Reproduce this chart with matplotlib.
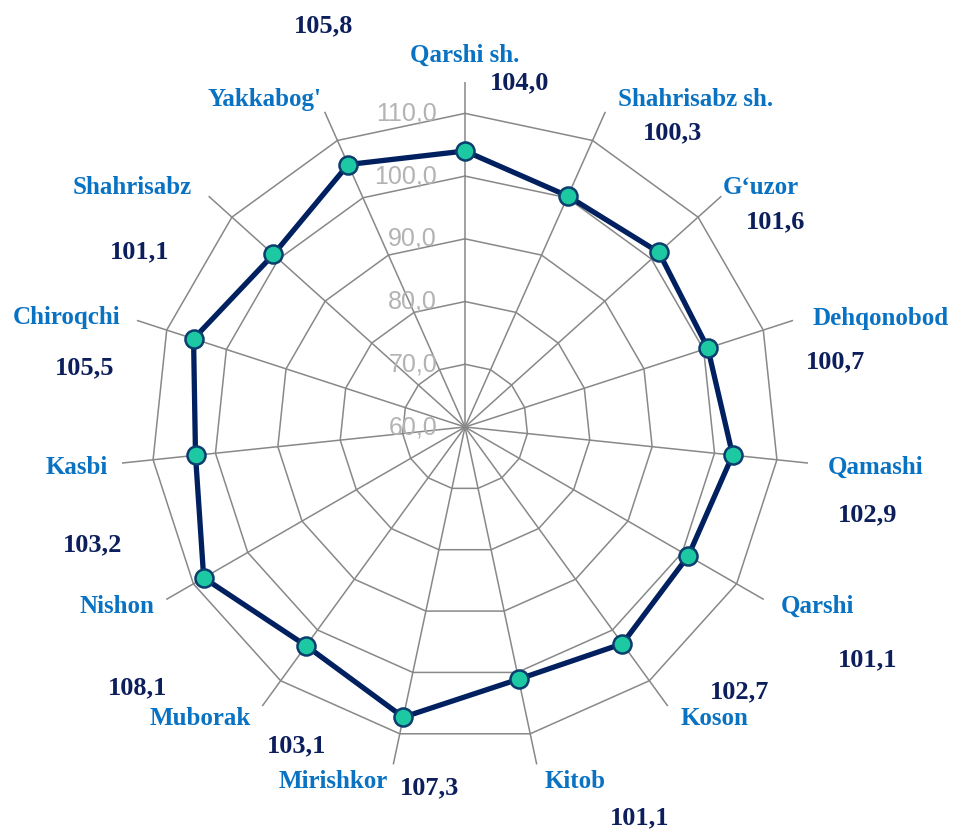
import numpy as np
import matplotlib
matplotlib.use("Agg")
import matplotlib.pyplot as plt

categories = ["Qarshi sh.", "Shahrisabz sh.", "G\u2018uzor", "Dehqonobod", "Qamashi",
              "Qarshi", "Koson", "Kitob", "Mirishkor", "Muborak", "Nishon",
              "Kasbi", "Chiroqchi", "Shahrisabz", "Yakkabog'"]
values = [104.0, 100.3, 101.6, 100.7, 102.9, 101.1, 102.7, 101.1,
          107.3, 103.1, 108.1, 103.2, 105.5, 101.1, 105.8]
ring_values = [70, 80, 90, 100, 110]
tick_values = [60, 70, 80, 90, 100, 110]
r_min, r_max = 60, 115

# label offsets from spoke tip, in pixels (x right, y down)
cat_offsets = [(0, -27), (90, -12), (39, -9), (87, -2), (67, 4), (54, 7), (47, 12),
               (38, 17), (-60, 17), (-62, 12), (-49, 7), (-45, 4), (-70, -3),
               (-76, -9), (-60, -12)]
val_offsets = [(55, 1), (67, 21), (54, 26), (42, 41), (60, 52), (104, 60), (72, -14),
               (103, 53), (36, 23), (34, 40), (-29, 88), (-29, 82), (-52, 47),
               (-69, 56), (-1, -86)]

def fmt(v):
    return ("%.1f" % v).replace(".", ",")

n = len(categories)
theta = np.arange(n) * 2 * np.pi / n

fig = plt.figure(figsize=(9.55, 8.3), dpi=100)
ax = fig.add_axes([120 / 955, 58 / 830, 690 / 955, 690 / 830], projection="polar")
ax.set_theta_zero_location("N")
ax.set_theta_direction(-1)
ax.set_ylim(r_min, r_max)
ax.grid(False)
ax.set_xticks([])
ax.set_yticks([])
ax.spines["polar"].set_visible(False)

grid_col = "#888888"
th_closed = np.append(theta, theta[0])
for rv in ring_values:
    ax.plot(th_closed, [rv] * (n + 1), color=grid_col, lw=1.1, zorder=1)
for t in theta:
    ax.plot([t, t], [r_min, r_max], color=grid_col, lw=1.1, zorder=1)

for tv in tick_values:
    ax.annotate(fmt(tv), xy=(0, tv), xytext=(-28, 0), textcoords="offset pixels",
                ha="right", va="center", fontsize=18, color="#b3b3b3",
                family="Liberation Sans", zorder=2)

vals_closed = values + values[:1]
ax.plot(th_closed, vals_closed, color="#002060", lw=3.8, zorder=3)
ax.plot(theta, values, "o", ms=13, mfc="#1cc9a3", mec="#0b3d6e", mew=1.8, zorder=4)

for i in range(n):
    dx, dy = cat_offsets[i]
    ax.annotate(categories[i], xy=(theta[i], r_max), xytext=(dx, -dy),
                textcoords="offset pixels", ha="center", va="center",
                fontsize=18, fontweight="bold", color="#0a72c2",
                family="Liberation Serif", annotation_clip=False)
    dx, dy = val_offsets[i]
    ax.annotate(fmt(values[i]), xy=(theta[i], r_max), xytext=(dx, -dy),
                textcoords="offset pixels", ha="center", va="center",
                fontsize=19, fontweight="bold", color="#0c1f5c",
                family="Liberation Serif", annotation_clip=False)

fig.savefig("out.png", dpi=100)
